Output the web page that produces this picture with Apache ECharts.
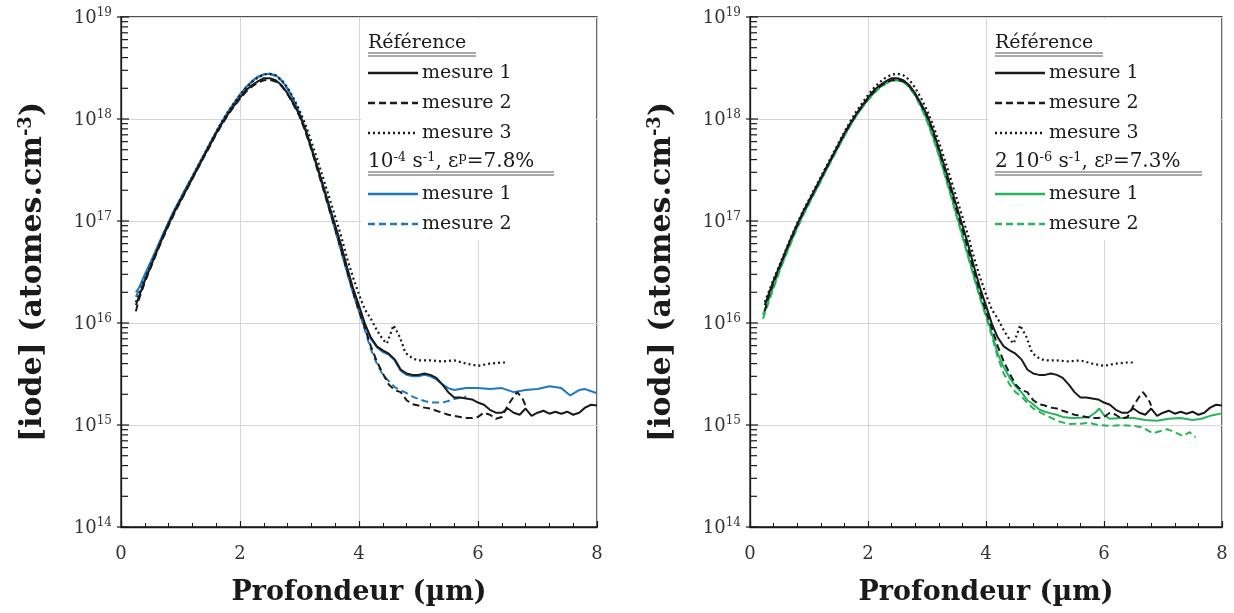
<!DOCTYPE html>
<html>
<head>
<meta charset="utf-8">
<script src="https://cdn.jsdelivr.net/npm/echarts@6/dist/echarts.min.js"></script>
<style>
html,body{margin:0;padding:0;background:#fff;}
#c{width:1234px;height:613px;}
</style>
</head>
<body>
<div id="c"></div>
<script>
// ---------- DATA (depth in µm, concentration in atomes.cm^-3) ----------
const xTicks = [0, 2, 4, 6, 8];
const yDecades = [1e14, 1e15, 1e16, 1e17, 1e18, 1e19];

const refMesure1 = [[0.25,1.5e16],[0.3,1.8e16],[0.4,2.6e16],[0.5,3.6e16],[0.6,5.0e16],[0.7,6.9e16],[0.8,9.3e16],[0.9,1.23e17],[1.0,1.58e17],[1.1,2.04e17],[1.2,2.63e17],[1.3,3.39e17],[1.4,4.37e17],[1.5,5.62e17],[1.6,7.24e17],[1.7,9.1e17],[1.8,1.12e18],[1.9,1.35e18],[2.0,1.62e18],[2.1,1.91e18],[2.2,2.14e18],[2.3,2.34e18],[2.4,2.51e18],[2.5,2.51e18],[2.6,2.40e18],[2.7,2.14e18],[2.8,1.78e18],[2.9,1.41e18],[3.0,1.10e18],[3.1,7.8e17],[3.2,5.2e17],[3.3,3.4e17],[3.4,2.2e17],[3.5,1.41e17],[3.6,9.1e16],[3.7,5.8e16],[3.8,3.5e16],[3.9,2.2e16],[4.0,1.48e16],[4.1,9.8e15],[4.2,7.2e15],[4.3,5.9e15],[4.4,5.4e15],[4.5,5.0e15],[4.6,4.4e15],[4.7,3.5e15],[4.8,3.2e15],[4.9,3.1e15],[5.0,3.1e15],[5.1,3.2e15],[5.2,3.1e15],[5.3,2.9e15],[5.4,2.5e15],[5.5,2.1e15],[5.6,1.86e15],[5.7,1.86e15],[5.8,1.82e15],[5.9,1.78e15],[6.0,1.66e15],[6.1,1.58e15],[6.2,1.41e15],[6.3,1.32e15],[6.4,1.32e15],[6.5,1.45e15],[6.6,1.32e15],[6.7,1.26e15],[6.8,1.45e15],[6.9,1.23e15],[7.0,1.32e15],[7.1,1.38e15],[7.2,1.29e15],[7.3,1.35e15],[7.4,1.29e15],[7.5,1.35e15],[7.6,1.26e15],[7.7,1.32e15],[7.8,1.48e15],[7.9,1.58e15],[8.0,1.55e15]];

const refMesure2 = [[0.25,1.3e16],[0.3,1.7e16],[0.4,2.5e16],[0.5,3.5e16],[0.6,4.9e16],[0.7,6.7e16],[0.8,9.0e16],[0.9,1.2e17],[1.0,1.55e17],[1.1,2.0e17],[1.2,2.6e17],[1.3,3.35e17],[1.4,4.3e17],[1.5,5.5e17],[1.6,7.1e17],[1.7,8.9e17],[1.8,1.1e18],[1.9,1.33e18],[2.0,1.58e18],[2.1,1.85e18],[2.2,2.08e18],[2.3,2.27e18],[2.4,2.4e18],[2.5,2.42e18],[2.6,2.33e18],[2.7,2.1e18],[2.8,1.75e18],[2.9,1.38e18],[3.0,1.06e18],[3.1,7.5e17],[3.2,5.0e17],[3.3,3.2e17],[3.4,2.05e17],[3.5,1.3e17],[3.6,8.3e16],[3.7,5.2e16],[3.8,3.2e16],[3.9,2.0e16],[4.0,1.3e16],[4.1,8.9e15],[4.2,5.9e15],[4.3,4.2e15],[4.4,3.2e15],[4.5,2.5e15],[4.6,2.2e15],[4.7,2.1e15],[4.8,1.75e15],[4.9,1.6e15],[5.0,1.55e15],[5.1,1.48e15],[5.2,1.45e15],[5.3,1.38e15],[5.4,1.32e15],[5.5,1.26e15],[5.6,1.23e15],[5.7,1.2e15],[5.8,1.17e15],[5.9,1.17e15],[6.0,1.2e15],[6.1,1.32e15],[6.2,1.26e15],[6.3,1.15e15],[6.4,1.2e15],[6.5,1.55e15],[6.6,1.9e15],[6.66,2.1e15],[6.75,1.8e15],[6.8,1.55e15]];

const refMesure3 = [[0.25,1.6e16],[0.3,1.9e16],[0.4,2.7e16],[0.5,3.7e16],[0.6,5.1e16],[0.7,7.0e16],[0.8,9.5e16],[0.9,1.26e17],[1.0,1.62e17],[1.1,2.1e17],[1.2,2.7e17],[1.3,3.5e17],[1.4,4.5e17],[1.5,5.8e17],[1.6,7.5e17],[1.7,9.5e17],[1.8,1.18e18],[1.9,1.43e18],[2.0,1.72e18],[2.1,2.02e18],[2.2,2.3e18],[2.3,2.55e18],[2.4,2.72e18],[2.5,2.78e18],[2.6,2.68e18],[2.7,2.42e18],[2.8,2.02e18],[2.9,1.6e18],[3.0,1.22e18],[3.1,8.8e17],[3.2,6.0e17],[3.3,4.0e17],[3.4,2.6e17],[3.5,1.7e17],[3.6,1.1e17],[3.7,7.1e16],[3.8,4.3e16],[3.9,2.8e16],[4.0,1.9e16],[4.1,1.35e16],[4.2,1.1e16],[4.3,8.5e15],[4.4,6.9e15],[4.47,6.3e15],[4.58,9.5e15],[4.69,7.2e15],[4.78,5.1e15],[4.9,4.5e15],[5.0,4.3e15],[5.2,4.3e15],[5.4,4.2e15],[5.6,4.3e15],[5.8,4.0e15],[6.0,3.8e15],[6.2,4.0e15],[6.4,4.1e15],[6.5,4.1e15]];

// Left panel: 10^-4 s^-1, εp = 7.8 %
const leftMesure1 = [[0.25,2.0e16],[0.3,2.2e16],[0.4,3.0e16],[0.5,4.0e16],[0.6,5.4e16],[0.7,7.3e16],[0.8,9.8e16],[0.9,1.3e17],[1.0,1.67e17],[1.1,2.15e17],[1.2,2.75e17],[1.3,3.55e17],[1.4,4.55e17],[1.5,5.85e17],[1.6,7.5e17],[1.7,9.5e17],[1.8,1.18e18],[1.9,1.44e18],[2.0,1.74e18],[2.1,2.05e18],[2.2,2.35e18],[2.3,2.6e18],[2.4,2.75e18],[2.5,2.78e18],[2.6,2.68e18],[2.7,2.4e18],[2.8,2.0e18],[2.9,1.55e18],[3.0,1.15e18],[3.1,8.0e17],[3.2,5.3e17],[3.3,3.4e17],[3.4,2.15e17],[3.5,1.35e17],[3.6,8.5e16],[3.7,5.3e16],[3.8,3.3e16],[3.9,2.1e16],[4.0,1.4e16],[4.1,9.5e15],[4.2,7.0e15],[4.3,5.8e15],[4.4,5.2e15],[4.5,4.9e15],[4.6,4.3e15],[4.7,3.4e15],[4.8,3.1e15],[4.9,3.0e15],[5.0,3.0e15],[5.1,3.1e15],[5.2,3.0e15],[5.3,2.8e15],[5.4,2.5e15],[5.5,2.3e15],[5.6,2.2e15],[5.7,2.25e15],[5.8,2.3e15],[6.0,2.3e15],[6.2,2.25e15],[6.4,2.3e15],[6.6,2.1e15],[6.8,2.2e15],[7.0,2.25e15],[7.2,2.4e15],[7.4,2.3e15],[7.55,1.95e15],[7.7,2.2e15],[7.8,2.25e15],[8.0,2.05e15]];

const leftMesure2 = [[0.25,1.8e16],[0.3,2.1e16],[0.4,2.9e16],[0.5,3.9e16],[0.6,5.3e16],[0.7,7.2e16],[0.8,9.6e16],[0.9,1.28e17],[1.0,1.65e17],[1.1,2.12e17],[1.2,2.72e17],[1.3,3.5e17],[1.4,4.5e17],[1.5,5.8e17],[1.6,7.4e17],[1.7,9.4e17],[1.8,1.17e18],[1.9,1.42e18],[2.0,1.72e18],[2.1,2.02e18],[2.2,2.32e18],[2.3,2.56e18],[2.4,2.72e18],[2.5,2.75e18],[2.6,2.64e18],[2.7,2.36e18],[2.8,1.96e18],[2.9,1.52e18],[3.0,1.12e18],[3.1,7.8e17],[3.2,5.1e17],[3.3,3.3e17],[3.4,2.08e17],[3.5,1.3e17],[3.6,8.1e16],[3.7,5.0e16],[3.8,3.1e16],[3.9,1.95e16],[4.0,1.3e16],[4.1,8.5e15],[4.2,5.5e15],[4.3,4.0e15],[4.4,3.1e15],[4.5,2.7e15],[4.6,2.35e15],[4.7,2.2e15],[4.8,2.05e15],[4.9,1.9e15],[5.0,1.8e15],[5.1,1.72e15],[5.2,1.66e15],[5.3,1.66e15],[5.4,1.66e15],[5.5,1.72e15],[5.6,1.8e15],[5.7,1.85e15],[5.8,1.9e15]];

// Right panel: 2 10^-6 s^-1, εp = 7.3 %
const rightMesure1 = [[0.22,1.2e16],[0.3,1.6e16],[0.4,2.3e16],[0.5,3.3e16],[0.6,4.6e16],[0.7,6.4e16],[0.8,8.7e16],[0.9,1.16e17],[1.0,1.5e17],[1.1,1.95e17],[1.2,2.5e17],[1.3,3.25e17],[1.4,4.2e17],[1.5,5.4e17],[1.6,6.9e17],[1.7,8.7e17],[1.8,1.08e18],[1.9,1.3e18],[2.0,1.55e18],[2.1,1.8e18],[2.2,2.05e18],[2.3,2.25e18],[2.4,2.38e18],[2.5,2.42e18],[2.6,2.32e18],[2.7,2.08e18],[2.8,1.72e18],[2.9,1.33e18],[3.0,9.8e17],[3.1,6.8e17],[3.2,4.5e17],[3.3,2.9e17],[3.4,1.85e17],[3.5,1.15e17],[3.6,7.2e16],[3.7,4.5e16],[3.8,2.8e16],[3.9,1.8e16],[4.0,1.2e16],[4.1,7.9e15],[4.2,5.0e15],[4.3,3.7e15],[4.4,2.9e15],[4.5,2.4e15],[4.6,2.1e15],[4.7,1.75e15],[4.8,1.6e15],[4.9,1.42e15],[5.0,1.35e15],[5.1,1.3e15],[5.2,1.26e15],[5.3,1.2e15],[5.45,1.17e15],[5.6,1.18e15],[5.75,1.2e15],[5.85,1.32e15],[5.92,1.45e15],[6.0,1.25e15],[6.1,1.15e15],[6.3,1.17e15],[6.5,1.17e15],[6.7,1.12e15],[6.9,1.1e15],[7.1,1.15e15],[7.3,1.17e15],[7.5,1.12e15],[7.65,1.15e15],[7.8,1.23e15],[8.0,1.3e15]];

const rightMesure2 = [[0.22,1.1e16],[0.3,1.5e16],[0.4,2.2e16],[0.5,3.2e16],[0.6,4.5e16],[0.7,6.2e16],[0.8,8.5e16],[0.9,1.13e17],[1.0,1.47e17],[1.1,1.9e17],[1.2,2.45e17],[1.3,3.2e17],[1.4,4.1e17],[1.5,5.3e17],[1.6,6.8e17],[1.7,8.6e17],[1.8,1.07e18],[1.9,1.29e18],[2.0,1.53e18],[2.1,1.78e18],[2.2,2.02e18],[2.3,2.22e18],[2.4,2.36e18],[2.5,2.4e18],[2.6,2.3e18],[2.7,2.05e18],[2.8,1.68e18],[2.9,1.3e18],[3.0,9.5e17],[3.1,6.6e17],[3.2,4.4e17],[3.3,2.85e17],[3.4,1.8e17],[3.5,1.12e17],[3.6,7.0e16],[3.7,4.4e16],[3.8,2.75e16],[3.9,1.75e16],[4.0,1.15e16],[4.1,7.4e15],[4.2,4.6e15],[4.3,3.2e15],[4.4,2.5e15],[4.5,2.1e15],[4.6,1.9e15],[4.7,1.65e15],[4.8,1.45e15],[4.95,1.3e15],[5.1,1.18e15],[5.2,1.1e15],[5.4,1.02e15],[5.6,1.03e15],[5.75,1.05e15],[5.9,1.0e15],[6.1,9.8e14],[6.3,1.0e15],[6.5,9.8e14],[6.65,9.5e14],[6.83,8.3e14],[7.07,9.1e14],[7.2,8.5e14],[7.34,7.8e14],[7.45,8.5e14],[7.55,7.6e14]];

const refNames = ['mesure 1', 'mesure 2', 'mesure 3'];
const testNames = ['mesure 1', 'mesure 2'];
const leftHeader = '10{s|-4} s{s|-1}, ε{s|p}=7.8%';
const rightHeader = '2 10{s|-6} s{s|-1}, ε{s|p}=7.3%';
const refHeader = 'Référence';

// ---------- STYLE ----------
const BLUE = '#1f78c1';
const GREEN = '#27b45e';
const INK = '#1a1a1a';
const SERIF = 'DejaVu Serif';

// log-axis minor tick positions (2..9 x 10^n) and decade ticks
const minorTickVals = [];
for (let e = 14; e < 19; e++) for (let m = 2; m <= 9; m++) minorTickVals.push([0, m * Math.pow(10, e)]);
const majorTickVals = yDecades.map(v => [0, v]);

const chart = echarts.init(document.getElementById('c'), null, {renderer: 'canvas'});

const grids = [
  {left: 121, top: 17, width: 476, height: 510},
  {left: 750, top: 17, width: 472, height: 510}
];

function xAxisFor(i) {
  return {
    type: 'value', gridIndex: i, min: 0, max: 8, interval: 2,
    axisLine: {show: true, onZero: false, lineStyle: {color: INK, width: 1.3}},
    axisTick: {show: true, inside: true, length: 6, lineStyle: {color: INK, width: 1.2}},
    minorTick: {show: true, splitNumber: 5, length: 4, lineStyle: {color: INK, width: 1}},
    splitLine: {show: true, lineStyle: {color: '#d6d6d6', width: 1}},
    axisLabel: {fontFamily: SERIF, fontSize: 18, color: '#333', margin: 18,
      formatter: v => String(v)},
    name: 'Profondeur (µm)', nameLocation: 'middle', nameGap: 52,
    nameTextStyle: {fontFamily: SERIF, fontWeight: 'bold', fontSize: 27, color: INK}
  };
}
function yAxisFor(i) {
  return {
    type: 'log', logBase: 10, gridIndex: i, min: yDecades[0], max: yDecades[yDecades.length - 1],
    axisLine: {show: true, lineStyle: {color: INK, width: 1.3}},
    axisTick: {show: false},
    splitLine: {show: true, lineStyle: {color: '#d6d6d6', width: 1}},
    axisLabel: {
      margin: 9, color: '#333',
      formatter: v => '{b|10}{s|' + Math.round(Math.log10(v)) + '}',
      rich: {
        b: {fontFamily: SERIF, fontSize: 18, color: '#333', lineHeight: 20, verticalAlign: 'bottom'},
        s: {fontFamily: SERIF, fontSize: 12, color: '#333', lineHeight: 20, verticalAlign: 'top'}
      }
    },
    name: '[iode] (atomes.cm{s|-3})', nameLocation: 'middle', nameGap: 72, nameRotate: 90,
    nameTextStyle: {fontFamily: SERIF, fontWeight: 'bold', fontSize: 30, color: INK,
      rich: {s: {fontFamily: SERIF, fontWeight: 'bold', fontSize: 18, color: INK, verticalAlign: 'top', lineHeight: 32}}}
  };
}

function lineSeries(name, data, i, color, type, width) {
  return {
    name: name, type: 'line', xAxisIndex: i, yAxisIndex: i, data: data,
    showSymbol: false, symbol: 'none', smooth: false, animation: false,
    lineStyle: {color: color, width: width, type: type}, z: 3
  };
}

// tick marks on the log axis, placed through the axis scale
function tickSeries(i, data, x0, x1) {
  return {
    type: 'custom', xAxisIndex: i, yAxisIndex: i, data: data, silent: true, clip: false, z: 6,
    animation: false,
    renderItem: (params, api) => {
      const p = api.coord([api.value(0), api.value(1)]);
      return {type: 'line', shape: {x1: p[0] + x0, y1: p[1], x2: p[0] + x1, y2: p[1]},
        style: {stroke: INK, lineWidth: 1.2}};
    }
  };
}

const series = [];
[0, 1].forEach(i => {
  const c = i === 0 ? BLUE : GREEN;
  const t1 = i === 0 ? leftMesure1 : rightMesure1;
  const t2 = i === 0 ? leftMesure2 : rightMesure2;
  series.push(lineSeries('test1', t1, i, c, 'solid', 2));
  series.push(lineSeries('test2', t2, i, c, [7, 4], 2));
  series.push(lineSeries('ref1', refMesure1, i, INK, 'solid', 2));
  series.push(lineSeries('ref2', refMesure2, i, INK, [7, 4], 2));
  series.push(lineSeries('ref3', refMesure3, i, INK, [2, 3], 2.2));
  series.push(tickSeries(i, minorTickVals, 0, 7));
  series.push(tickSeries(i, majorTickVals, -4, 8));
});

// ---------- legend boxes (graphic) ----------
function legendGroup(x0, boxW, header, color, headerW) {
  const els = [];
  const rowY = [43, 73, 103, 133, 162, 194, 224];
  els.push({type: 'rect', shape: {x: x0 - 7, y: 19, width: boxW, height: 221}, style: {fill: '#fff'}, z: 5, silent: true});
  const textStyle = (txt, y, fs) => ({type: 'text', x: x0, y: y, z: 7, silent: true,
    style: {text: txt, font: (fs || 19) + 'px "' + SERIF + '"', fill: INK, verticalAlign: 'middle',
      rich: {s: {fontFamily: SERIF, fontSize: 13, fill: INK, verticalAlign: 'top', lineHeight: 22}}}});
  els.push(textStyle(refHeader, rowY[0]));
  [10, 13].forEach(d => els.push({type: 'line', z: 7, silent: true,
    shape: {x1: x0, y1: rowY[0] + d, x2: x0 + 108, y2: rowY[0] + d}, style: {stroke: '#555', lineWidth: 1}}));
  const dashes = ['solid', [7, 4], [2, 3]];
  refNames.forEach((n, k) => {
    const y = rowY[k + 1];
    els.push({type: 'line', z: 7, silent: true, shape: {x1: x0, y1: y, x2: x0 + 50, y2: y},
      style: {stroke: INK, lineWidth: 2.6, lineDash: dashes[k] === 'solid' ? null : dashes[k]}});
    const t = textStyle(n, y); t.x = x0 + 54; els.push(t);
  });
  els.push(textStyle(header, rowY[4], 20));
  [10, 13].forEach(d => els.push({type: 'line', z: 7, silent: true,
    shape: {x1: x0, y1: rowY[4] + d, x2: x0 + headerW, y2: rowY[4] + d}, style: {stroke: '#555', lineWidth: 1}}));
  testNames.forEach((n, k) => {
    const y = rowY[k + 5];
    els.push({type: 'line', z: 7, silent: true, shape: {x1: x0, y1: y, x2: x0 + 50, y2: y},
      style: {stroke: color, lineWidth: 2.6, lineDash: k === 0 ? null : [7, 4]}});
    const t = textStyle(n, y); t.x = x0 + 54; els.push(t);
  });
  return els;
}

const graphic = [].concat(
  legendGroup(368, 235, leftHeader, BLUE, 186),
  legendGroup(995, 232, rightHeader, GREEN, 207)
);

chart.setOption({
  backgroundColor: '#fff',
  animation: false,
  grid: grids.map(g => Object.assign({show: true, borderColor: INK, borderWidth: 1.3, backgroundColor: 'transparent'}, g)),
  xAxis: [xAxisFor(0), xAxisFor(1)],
  yAxis: [yAxisFor(0), yAxisFor(1)],
  series: series,
  graphic: graphic
});
</script>
</body>
</html>
